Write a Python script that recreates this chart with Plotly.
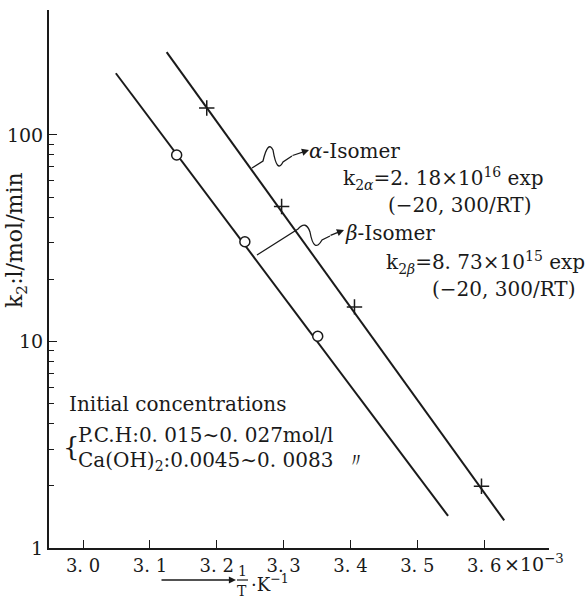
import plotly.graph_objects as go

# ---- data (x in units of 1e-3 K^-1) ----
alpha_x = [3.185, 3.297, 3.406, 3.596]
alpha_k = [135, 45, 14.7, 1.99]
beta_x = [3.140, 3.242, 3.351]
beta_k = [80, 30.4, 10.6]
alpha_line_x = [3.125, 3.630]
alpha_line_k = [252, 1.36]
beta_line_x = [3.049, 3.546]
beta_line_k = [199, 1.43]

x_ticks = [3.0, 3.1, 3.2, 3.3, 3.4, 3.5, 3.6]
x_ticktext = ["3. 0", "3. 1", "3. 2", "3. 3", "3. 4", "3. 5", "3. 6"]
y_ticks = [1, 10, 100]
y_ticktext = ["1", "10", "100"]
y_minor = [2, 3, 4, 5, 6, 7, 8, 9, 20, 30, 40, 50, 60, 70, 80, 90]

W, H = 585, 598
L, R, T, B = 49, 36, 10, 50
PW, PH = W - L - R, H - T - B
FONT = "DejaVu Serif"
INK = "#1a1a1a"


def px(x, y):
    return (x - L) / PW, (H - B - y) / PH


def path(points):
    s = ""
    for cmd, pts in points:
        s += cmd + " " + " ".join("%.5f,%.5f" % px(*p) for p in pts) + " "
    return s.strip()


fig = go.Figure()
fig.add_trace(go.Scatter(x=alpha_line_x, y=alpha_line_k, mode="lines",
                         line=dict(color=INK, width=2), hoverinfo="skip"))
fig.add_trace(go.Scatter(x=beta_line_x, y=beta_line_k, mode="lines",
                         line=dict(color=INK, width=2), hoverinfo="skip"))
fig.add_trace(go.Scatter(x=alpha_x, y=alpha_k, mode="markers",
                         marker=dict(symbol="cross-thin", size=11,
                                     line=dict(color=INK, width=1.5))))
fig.add_trace(go.Scatter(x=beta_x, y=beta_k, mode="markers",
                         marker=dict(symbol="circle", size=10, color="white",
                                     line=dict(color=INK, width=1.5))))

shapes = []
# alpha wavy leader
shapes.append(dict(type="path", xref="paper", yref="paper",
                   path=path([("M", [(252, 168)]), ("L", [(263, 161)]),
                              ("Q", [(268, 140), (273, 150)]),
                              ("Q", [(277, 174), (283, 162)]),
                              ("L", [(292, 156)])]),
                   line=dict(color=INK, width=1.3)))
# beta leader
shapes.append(dict(type="path", xref="paper", yref="paper",
                   path=path([("M", [(257, 255)]), ("L", [(298, 229)]),
                              ("Q", [(306, 220), (310, 232)]),
                              ("Q", [(314, 254), (322, 240)]),
                              ("L", [(330, 236)])]),
                   line=dict(color=INK, width=1.3)))
# fraction bar in x title
bx0, by = px(237, 580)
bx1, _ = px(248, 580)
shapes.append(dict(type="line", xref="paper", yref="paper", x0=bx0, x1=bx1,
                   y0=by, y1=by, line=dict(color=INK, width=1.2)))

ann = []


def txt(x, y, s, size=17, xanchor="left", angle=0):
    xp, yp = px(x, y)
    ann.append(dict(x=xp, y=yp, xref="paper", yref="paper", text=s,
                    showarrow=False, xanchor=xanchor, yanchor="middle",
                    textangle=angle,
                    font=dict(family=FONT, size=size, color=INK)))


def arrow(x0, y0, x1, y1):
    xp, yp = px(x1, y1)
    ann.append(dict(x=xp, y=yp, xref="paper", yref="paper", text="",
                    showarrow=True, ax=x0 - x1, ay=y0 - y1, arrowhead=2,
                    arrowsize=1.1, arrowwidth=1.3, arrowcolor=INK))


arrow(291, 156, 309, 150)
arrow(329, 236, 344, 230)
txt(307, 151, "<i>α</i>-Isomer", 20)
txt(341, 178, "k<sub>2<i>α</i></sub>=2. 18×10<sup>16</sup> exp", 20)
txt(386, 205, "(−20, 300/RT)", 20)
txt(343, 233, "<i>β</i>-Isomer", 20)
txt(384, 262, "k<sub>2<i>β</i></sub>=8. 73×10<sup>15</sup> exp", 20)
txt(430, 289, "(−20, 300/RT)", 20)

txt(67, 404, "Initial concentrations", 20)
txt(61, 447, "{", 26)
txt(76, 435, "P.C.H:0. 015∼0. 027mol/l", 20)
txt(76, 461, "Ca(OH)<sub>2</sub>:0.0045∼0. 0083  〃", 20)

txt(502, 563, "×10<sup>−3</sup>", 19)

# y title
txt(16, 240, "k<sub>2</sub>:l/mol/min", 22, "center", -90)

# x title
arrow(160, 580, 236, 580)
txt(242, 571, "1", 14, "center")
txt(242, 591, "T", 14, "center")
txt(249, 583, "·K<sup>−1</sup>", 18)

fig.update_layout(
    width=W, height=H, margin=dict(l=L, r=R, t=T, b=B, autoexpand=False),
    paper_bgcolor="white", plot_bgcolor="white", showlegend=False,
    shapes=shapes, annotations=ann,
    font=dict(family=FONT, size=18, color=INK),
    xaxis=dict(range=[2.949, 3.697], showgrid=False, zeroline=False,
               automargin=False,
               showline=True, linecolor=INK, linewidth=2,
               ticks="inside", ticklen=8, tickwidth=1.3, tickcolor=INK,
               tickvals=x_ticks, ticktext=x_ticktext,
               tickfont=dict(family=FONT, size=18, color=INK)),
    yaxis=dict(type="log", range=[0, 2.605], showgrid=False, zeroline=False,
               automargin=False,
               showline=True, linecolor=INK, linewidth=2,
               ticks="inside", ticklen=8, tickwidth=1.3, tickcolor=INK,
               tickvals=y_ticks, ticktext=y_ticktext,
               tickfont=dict(family=FONT, size=19, color=INK),
               minor=dict(tickvals=y_minor, ticks="inside", ticklen=5,
                          tickwidth=1.2, tickcolor=INK, showgrid=False)),
)

fig.write_html("out.html")
